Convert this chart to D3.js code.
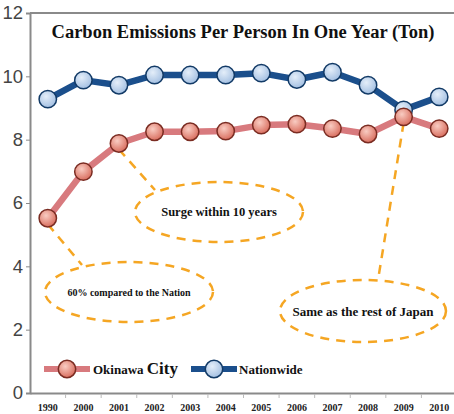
<!DOCTYPE html>
<html lang="en">
    <head>
        <meta charset="UTF-8">
        <title>Carbon Emissions Per Person</title>
        <script src="https://cdn.jsdelivr.net/npm/d3@7"></script>
        <style type="text/css">
            body {margin: 0; background: #fff; overflow: hidden;}
            svg {display: block;}
        </style>
    </head>
    <body>
        <svg width="454" height="414"></svg>
        <script>
            var years = ['1990', '2000', '2001', '2002', '2003', '2004', '2005', '2006', '2007', '2008', '2009', '2010'];
            var okinawa = [5.52, 6.99, 7.88, 8.25, 8.25, 8.27, 8.46, 8.49, 8.35, 8.18, 8.72, 8.35];
            var nationwide = [9.28, 9.88, 9.72, 10.04, 10.04, 10.04, 10.1, 9.9, 10.13, 9.72, 8.94, 9.35];
            var yTicks = [0, 2, 4, 6, 8, 10, 12];
            var title = 'Carbon Emissions Per Person In One Year (Ton)';

            var svg = d3.select('svg');
            var plotLeft = 30, plotRight = 457, plotTop = 13, plotBottom = 393;

            var x = d3.scaleBand().domain(years).range([plotLeft, plotRight]);
            var y = d3.scaleLinear().domain([0, 12]).range([plotBottom, plotTop]);
            var cx = function(i) { return x(years[i]) + x.bandwidth() / 2; };

            var defs = svg.append('defs');
            function grad(id, c0, c1) {
                var g = defs.append('radialGradient').attr('id', id)
                    .attr('cx', '40%').attr('cy', '35%').attr('r', '65%');
                g.append('stop').attr('offset', '0%').attr('stop-color', c0);
                g.append('stop').attr('offset', '100%').attr('stop-color', c1);
            }
            grad('gBlue', '#e4eef9', '#a4c0e2');
            grad('gRed', '#f9ccc2', '#d96f60');

            // frame
            svg.append('line').attr('x1', plotLeft).attr('x2', 454).attr('y1', plotTop).attr('y2', plotTop)
                .attr('stroke', '#8a8a8a').attr('stroke-width', 2);

            var yAxis = svg.append('g').attr('transform', 'translate(' + plotLeft + ',0)')
                .call(d3.axisLeft(y).tickValues(yTicks).tickSize(4).tickPadding(3));
            yAxis.select('.domain').attr('stroke', '#8a8a8a').attr('stroke-width', 2);
            yAxis.selectAll('.tick line').attr('stroke', '#8a8a8a');
            yAxis.selectAll('text').attr('font-family', 'Liberation Sans, Arial, sans-serif')
                .attr('font-size', 18.5).attr('fill', '#444');

            var xAxis = svg.append('g').attr('transform', 'translate(0,' + plotBottom + ')')
                .call(d3.axisBottom(x).tickSize(0).tickPadding(11));
            xAxis.select('.domain').attr('stroke', '#8a8a8a').attr('stroke-width', 2);
            xAxis.selectAll('text').attr('font-family', 'Liberation Serif, Times New Roman, serif')
                .attr('font-weight', 'bold').attr('font-size', 10).attr('fill', '#222');
            xAxis.selectAll('.bound').data(years.slice(1)).enter().append('line')
                .attr('x1', function(d) { return x(d); }).attr('x2', function(d) { return x(d); })
                .attr('y1', 1).attr('y2', 5).attr('stroke', '#bbb');

            // title
            svg.append('text').attr('x', 243).attr('y', 38).attr('text-anchor', 'middle')
                .attr('font-family', 'Liberation Serif, Times New Roman, serif')
                .attr('font-weight', 'bold').attr('font-size', 18.5).attr('fill', '#111')
                .text(title);

            // annotations
            var orange = '#f5a623';
            var notes = [
                {cx: 219, cy: 212, rx: 84, ry: 30, text: 'Surge within 10 years', size: 12.5, from: 2, to: [155, 190]},
                {cx: 129, cy: 292, rx: 84, ry: 30, text: '60% compared to the Nation', size: 10, from: 0, to: [82, 265]},
                {cx: 363, cy: 311, rx: 83, ry: 31, text: 'Same as the rest of Japan', size: 13, from: 10, to: [378, 280]}
            ];
            var ann = svg.append('g');
            notes.forEach(function(n) {
                ann.append('line')
                    .attr('x1', cx(n.from)).attr('y1', y(okinawa[n.from]) + 6)
                    .attr('x2', n.to[0]).attr('y2', n.to[1])
                    .attr('stroke', orange).attr('stroke-width', 2.5).attr('stroke-dasharray', '9,7');
                ann.append('ellipse').attr('cx', n.cx).attr('cy', n.cy).attr('rx', n.rx).attr('ry', n.ry)
                    .attr('fill', 'none').attr('stroke', orange).attr('stroke-width', 2.5)
                    .attr('stroke-dasharray', '9,7');
                ann.append('text').attr('x', n.cx).attr('y', n.cy + n.size * 0.35)
                    .attr('text-anchor', 'middle')
                    .attr('font-family', 'Liberation Serif, Times New Roman, serif')
                    .attr('font-weight', 'bold').attr('font-size', n.size).attr('fill', '#111')
                    .text(n.text);
            });

            // series
            var series = [
                {name: 'Nationwide', values: nationwide, line: '#1b4f8c', stroke: '#123a66', fill: 'url(#gBlue)'},
                {name: 'Okinawa City', values: okinawa, line: '#d87a7e', stroke: '#7a2c22', fill: 'url(#gRed)'}
            ];
            var line = d3.line().x(function(d, i) { return cx(i); }).y(function(d) { return y(d); });
            series.forEach(function(s) {
                svg.append('path').datum(s.values).attr('d', line)
                    .attr('fill', 'none').attr('stroke', s.line).attr('stroke-width', 6.5)
                    .attr('stroke-linejoin', 'round');
                svg.append('g').selectAll('circle').data(s.values).enter().append('circle')
                    .attr('cx', function(d, i) { return cx(i); }).attr('cy', function(d) { return y(d); })
                    .attr('r', 8.7).attr('fill', s.fill).attr('stroke', s.stroke).attr('stroke-width', 1.5);
            });

            // legend
            var lg = svg.append('g');
            function legendItem(x0, s) {
                lg.append('line').attr('x1', x0).attr('x2', x0 + 46).attr('y1', 369).attr('y2', 369)
                    .attr('stroke', s.line).attr('stroke-width', 6);
                lg.append('circle').attr('cx', x0 + 23).attr('cy', 369).attr('r', 8.7)
                    .attr('fill', s.fill).attr('stroke', s.stroke).attr('stroke-width', 1.5);
            }
            legendItem(44, series[1]);
            legendItem(191, series[0]);
            var t1 = lg.append('text').attr('x', 93).attr('y', 374)
                .attr('font-family', 'Liberation Serif, Times New Roman, serif').attr('fill', '#111');
            t1.append('tspan').attr('font-weight', 'bold').attr('font-size', 13).text('Okinawa ');
            t1.append('tspan').attr('font-weight', 'bold').attr('font-size', 17).text('City');
            lg.append('text').attr('x', 239).attr('y', 374)
                .attr('font-family', 'Liberation Serif, Times New Roman, serif')
                .attr('font-weight', 'bold').attr('font-size', 13).attr('fill', '#111')
                .text('Nationwide');
        </script>
    </body>
</html>
